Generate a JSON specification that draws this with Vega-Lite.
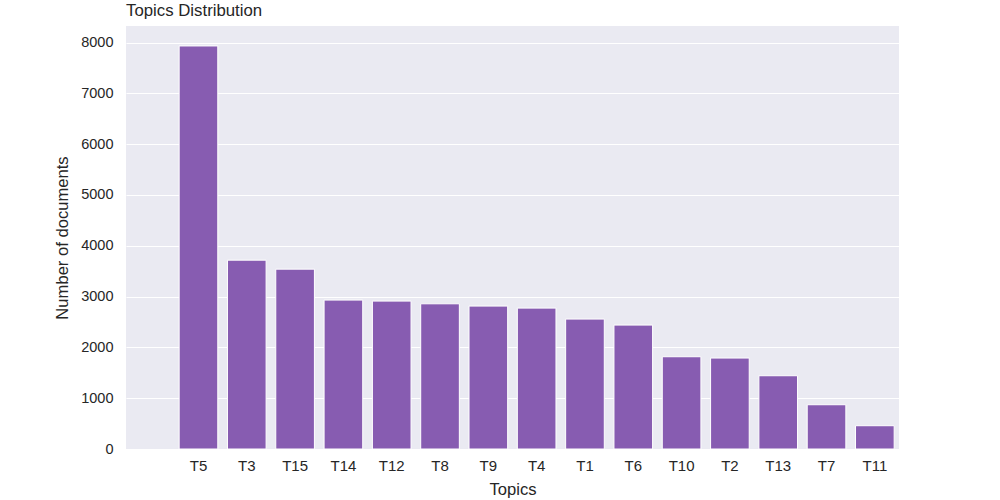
{
  "$schema": "https://vega.github.io/schema/vega-lite/v6.json",
  "width": 773,
  "height": 423,
  "autosize": {"type": "none"},
  "padding": {"left": 126, "top": 26, "right": 101, "bottom": 51},
  "background": "white",
  "title": {
    "text": "Topics Distribution",
    "anchor": "start",
    "frame": "group",
    "font": "Liberation Sans",
    "fontSize": 16.8,
    "fontWeight": "normal",
    "color": "#262626",
    "offset": 6
  },
  "config": {
    "view": {"fill": "#EAEAF2", "stroke": null},
    "axis": {
      "labelFont": "Liberation Sans",
      "titleFont": "Liberation Sans",
      "labelFontSize": 14.5,
      "titleFontSize": 16.6,
      "titleFontWeight": "normal",
      "labelColor": "#262626",
      "titleColor": "#262626",
      "domain": false,
      "ticks": false,
      "gridColor": "white",
      "gridWidth": 1.2,
      "gridOpacity": 1
    }
  },
  "data": {
    "values": [
      {"topic": "T5", "documents": 7933},
      {"topic": "T3", "documents": 3717},
      {"topic": "T15", "documents": 3540},
      {"topic": "T14", "documents": 2931},
      {"topic": "T12", "documents": 2911},
      {"topic": "T8", "documents": 2858},
      {"topic": "T9", "documents": 2813},
      {"topic": "T4", "documents": 2773},
      {"topic": "T1", "documents": 2557},
      {"topic": "T6", "documents": 2439},
      {"topic": "T10", "documents": 1816},
      {"topic": "T2", "documents": 1790},
      {"topic": "T13", "documents": 1442},
      {"topic": "T7", "documents": 871},
      {"topic": "T11", "documents": 458}
    ]
  },
  "mark": {"type": "bar", "color": "#875cb1", "stroke": "white", "strokeWidth": 1},
  "encoding": {
    "x": {
      "field": "topic",
      "type": "nominal",
      "title": "Topics",
      "scale": {
        "domain": ["", "T5", "T3", "T15", "T14", "T12", "T8", "T9", "T4", "T1", "T6", "T10", "T2", "T13", "T7", "T11"],
        "paddingInner": 0.2,
        "paddingOuter": 0.1
      },
      "axis": {"labelAngle": 0, "grid": false, "labelPadding": 9, "labelFontSize": 15, "titlePadding": 8}
    },
    "y": {
      "field": "documents",
      "type": "quantitative",
      "title": "Number of documents",
      "scale": {"domain": [0, 8326], "nice": false, "zero": true},
      "axis": {"values": [0, 1000, 2000, 3000, 4000, 5000, 6000, 7000, 8000], "format": "d", "labelPadding": 13, "titlePadding": 10, "grid": true}
    }
  }
}
